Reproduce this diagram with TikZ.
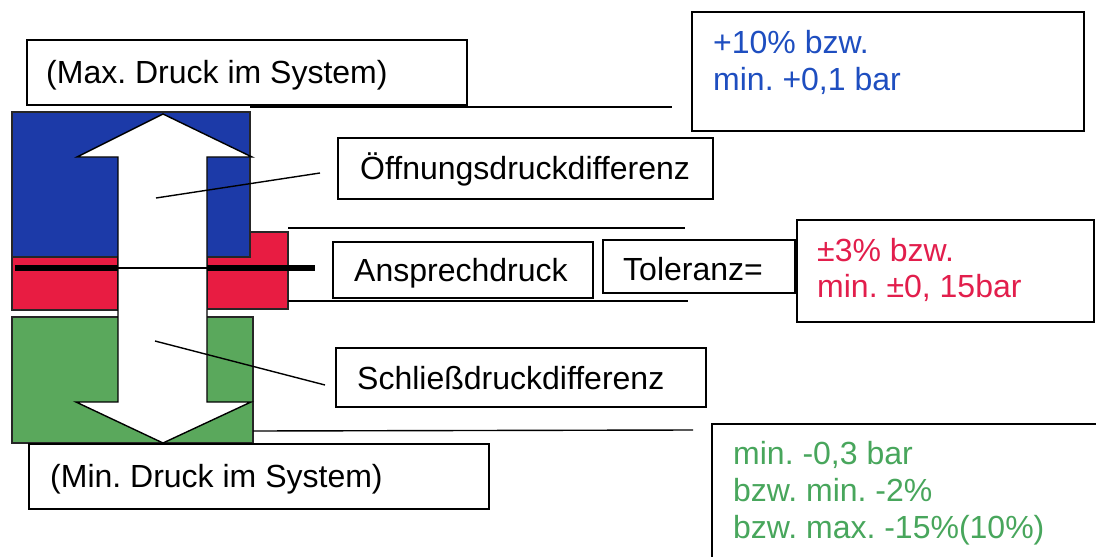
\documentclass[tikz,border=0pt]{standalone}
\usepackage{fontspec}
\setmainfont{Liberation Sans}
\frenchspacing
\definecolor{bfill}{RGB}{28,58,168}
\definecolor{rfill}{RGB}{232,28,66}
\definecolor{gfill}{RGB}{90,168,92}
\definecolor{btext}{RGB}{30,78,192}
\definecolor{rtext}{RGB}{226,30,76}
\definecolor{gtext}{RGB}{72,166,92}
\begin{document}
\begin{tikzpicture}[x=1pt,y=-1pt,
  box/.style={draw=black, line width=1.5pt, inner sep=0pt, fill=white},
  txt/.style={anchor=base west, inner sep=0pt, font=\fontsize{32pt}{37pt}\selectfont},
  blk/.style={draw=black!85, line width=1.4pt},
  rule/.style={draw=black, line width=1.4pt}]
\clip (0,0) rectangle (1096,557);
\fill[white] (0,0) rectangle (1096,557);
% coloured blocks
\path[blk, fill=rfill] (207,232) rectangle (288,309);
\path[blk, fill=bfill] (12,112) rectangle (250,257);
\path[blk, fill=rfill] (12,257) rectangle (118,310);
\path[blk, fill=gfill] (12,317) rectangle (253,443);
% double arrow
\path[blk, draw=black, fill=white, line join=miter]
  (163,114) -- (252,157) -- (207,157) -- (207,402) -- (251,402) -- (163,443)
  -- (76,402) -- (118,402) -- (118,157) -- (77,157) -- cycle;
\draw[black, line width=1.2pt] (118,268) -- (207,268);
\draw[black, line width=6pt] (15,268) -- (118,268);
\draw[black, line width=6pt] (207,268) -- (315,268);
% horizontal rules
\coordinate (r1a) at (250,107); \coordinate (r1b) at (672,107);
\coordinate (r2a) at (288,228); \coordinate (r2b) at (685,228);
\coordinate (r3a) at (288,301); \coordinate (r3b) at (688,301);
\coordinate (r4a) at (253,431); \coordinate (r4b) at (693,430);
\draw[rule] (r1a) -- (r1b);
\draw[rule] (r2a) -- (r2b);
\draw[rule] (r3a) -- (r3b);
\draw[rule] (r4a) -- (r4b);
% leader lines
\coordinate (l1a) at (156,198); \coordinate (l1b) at (320,173);
\coordinate (l2a) at (155,341); \coordinate (l2b) at (325,385);
\draw[rule] (l1a) -- (l1b);
\draw[rule] (l2a) -- (l2b);
% boxes
\node[box, minimum width=440pt, minimum height=65pt] (maxbox) at (247,72.5) {};
\node[box, minimum width=392pt, minimum height=119pt] (bluebox) at (888,71.5) {};
\node[box, minimum width=375pt, minimum height=61pt] (oeffbox) at (525.5,168.5) {};
\node[box, minimum width=260pt, minimum height=56pt] (anbox) at (463,270) {};
\node[box, minimum width=192pt, minimum height=53pt] (tolbox) at (699,266.5) {};
\node[box, minimum width=297pt, minimum height=102pt] (redbox) at (945.5,271) {};
\node[box, minimum width=370pt, minimum height=59pt] (schbox) at (521,377.5) {};
\node[box, minimum width=460pt, minimum height=65pt] (minbox) at (259,476.5) {};
\node[box, minimum width=398pt, minimum height=196pt] (greenbox) at (911,522) {};
% texts
\node[txt] (tmax) at (46,83) {(Max. Druck im System)};
\node[txt, text=btext] (tb1) at (713,53) {+10\% bzw.};
\node[txt, text=btext] (tb2) at (713,90) {min. +0,1 bar};
\node[txt] (toeff) at (360,179) {Öffnungsdruckdifferenz};
\node[txt] (tan) at (354,281) {Ansprechdruck};
\node[txt] (ttol) at (623,280) {Toleranz=};
\node[txt, text=rtext] (tr1) at (817,261) {±3\% bzw.};
\node[txt, text=rtext] (tr2) at (817,297) {min. ±0, 15bar};
\node[txt] (tsch) at (357,389) {Schließdruckdifferenz};
\node[txt] (tmin) at (50,487) {(Min. Druck im System)};
\node[txt, text=gtext] (tg1) at (733,464) {min. -0,3 bar};
\node[txt, text=gtext] (tg2) at (733,501) {bzw. min. -2\%};
\node[txt, text=gtext] (tg3) at (733,538) {bzw. max. -15\%(10\%)};
\end{tikzpicture}
\end{document}
